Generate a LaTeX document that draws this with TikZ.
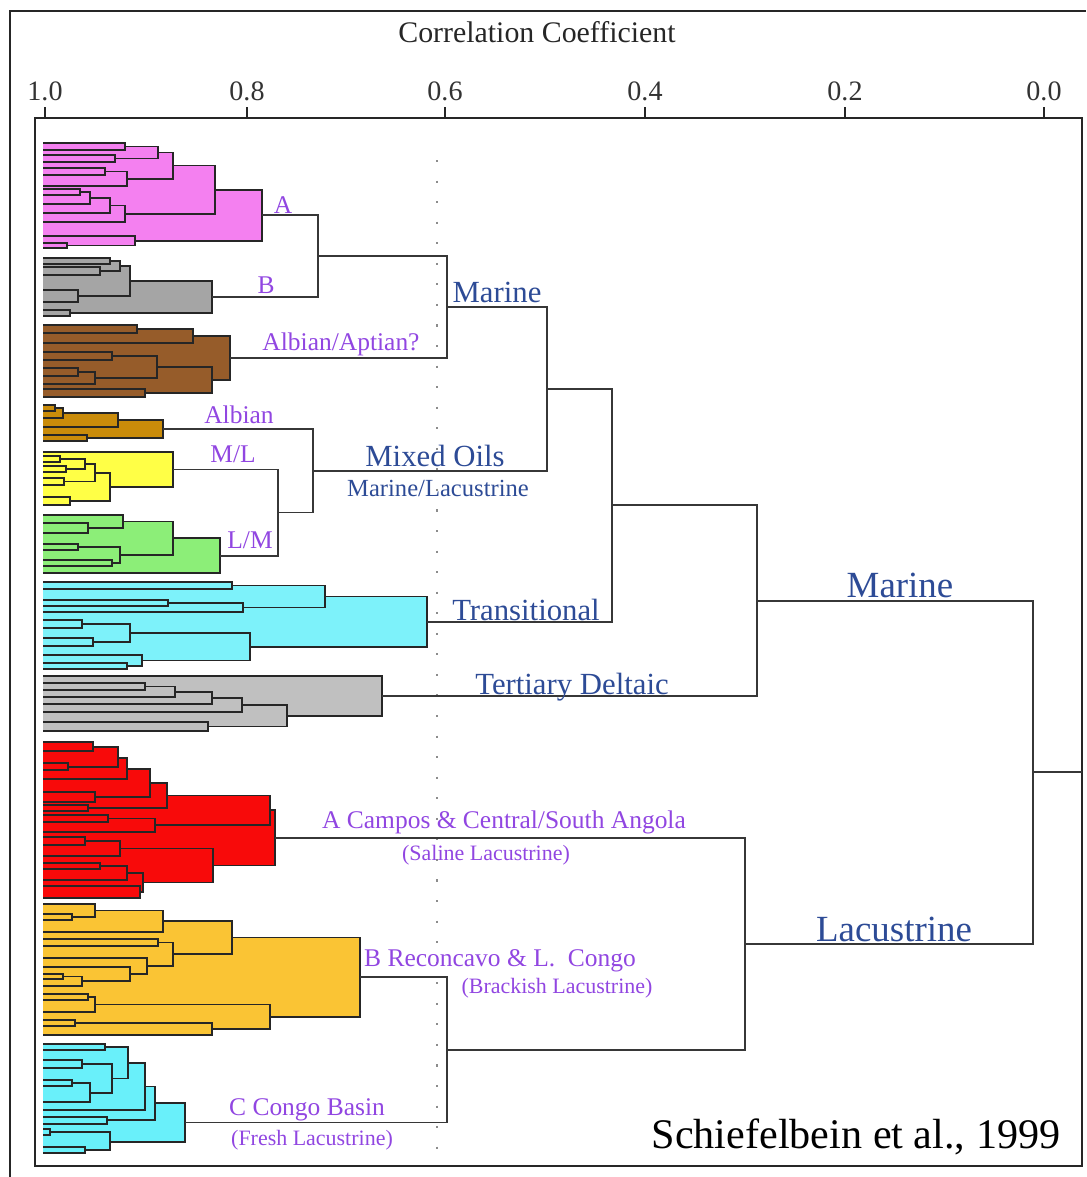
\documentclass[tikz,border=0pt]{standalone}
\usepackage{fontspec}
\setmainfont{Liberation Serif}
\usepackage{tikz}
\definecolor{pinkA}{RGB}{244,128,240}
\definecolor{grayB}{RGB}{165,165,165}
\definecolor{brownAA}{RGB}{150,92,42}
\definecolor{goldAlb}{RGB}{202,140,10}
\definecolor{yellowML}{RGB}{255,255,70}
\definecolor{greenLM}{RGB}{140,238,120}
\definecolor{cyanTr}{RGB}{125,242,250}
\definecolor{grayTd}{RGB}{192,192,192}
\definecolor{redSal}{RGB}{248,10,10}
\definecolor{orangeBr}{RGB}{250,196,52}
\definecolor{cyanFr}{RGB}{105,240,250}
\definecolor{grpcol}{RGB}{145,70,225}
\definecolor{typcol}{RGB}{45,75,150}
\definecolor{linkcol}{RGB}{55,55,55}
\tikzset{
	lbl/.style = {inner sep=0pt, anchor=base},
	grp_lbl/.style = {lbl, text=grpcol, font=\fontsize{14.5}{16}\selectfont},
	sub_lbl/.style = {lbl, text=grpcol, font=\fontsize{12.5}{14}\selectfont},
	typ_lbl/.style = {lbl, text=typcol, font=\fontsize{17.5}{20}\selectfont},
	typ_sub/.style = {lbl, text=typcol, font=\fontsize{14}{16}\selectfont},
	big_lbl/.style = {lbl, text=typcol, font=\fontsize{21}{24}\selectfont},
	tick_lbl/.style = {lbl, text=black!80, font=\fontsize{16}{18}\selectfont},
	title_lbl/.style = {lbl, text=black!85, font=\fontsize{17}{20}\selectfont},
	cite_lbl/.style = {lbl, text=black, font=\fontsize{24}{28}\selectfont},
	clu_line/.style = {draw=black!85, line width=1pt},
	link_line/.style = {draw=linkcol, line width=1.1pt},
	box_line/.style = {draw=black!85, line width=1.1pt},
	guide_dots/.style = {draw=black!45, line width=1.2pt, dash pattern=on 1.2pt off 10.5pt}
}

\begin{document}
\begin{tikzpicture}[x=0.02cm, y=-0.02cm]
\useasboundingbox (0,0) rectangle (1086,1177);
\draw[box_line] (10,1177) -- (10,11) -- (1086,11);
\draw[box_line] (35,118) rectangle (1082,1166);
\node[title_lbl] (title) at (537,42) {Correlation Coefficient};
\foreach \v/\lab [count=\i] in {45/1.0, 247/0.8, 445/0.6, 645/0.4, 845/0.2, 1044/0.0} {
	\draw[box_line] (\v,107) -- (\v,118);
	\node[tick_lbl] (tick\i) at (\v,100) {\lab};
}
\draw[guide_dots] (437,160) -- (437,1152);

\foreach \mx/\ya/\yb in {262/189.7/240.75, 215/165.6/213.75, 173/152.5/178.75, 158/146.5/158.5,
	135/236/245.5, 127/171.5/186, 125/205.5/222, 125/143/150, 115/155/162, 110/198/213,
	105/168/175, 90/192/204, 80/189/195, 67/243/248}
	\filldraw[clu_line, fill=pinkA] (43,\ya) -| (\mx,\yb) -- (43,\yb);
\foreach \mx/\ya/\yb in {212/281/313, 130/266/296, 120/261/271, 110/258/264, 100/267/275,
	78/290/302, 70/310/316}
	\filldraw[clu_line, fill=grayB] (43,\ya) -| (\mx,\yb) -- (43,\yb);
\foreach \mx/\ya/\yb in {230/336/380, 212/367/393, 193/329/343, 157/356/378, 145/389/397,
	137/325/333, 112/352/360, 95/372/384, 78/368/376}
	\filldraw[clu_line, fill=brownAA] (43,\ya) -| (\mx,\yb) -- (43,\yb);
\foreach \mx/\ya/\yb in {163/420/438, 118/413/427, 87/435/441, 63/408/418, 55/405/411}
	\filldraw[clu_line, fill=goldAlb] (43,\ya) -| (\mx,\yb) -- (43,\yb);
\foreach \mx/\ya/\yb in {173/452/487, 110/473/501, 95/464/481.5, 85/459/469, 70/497/505,
	66/466/472, 64/478/485, 60/456/462}
	\filldraw[clu_line, fill=yellowML] (43,\ya) -| (\mx,\yb) -- (43,\yb);
\foreach \mx/\ya/\yb in {220/538.25/573, 173/521.5/555, 123/515/528, 120/547/563,
	112/560/566, 88/523/533, 78/544/550}
	\filldraw[clu_line, fill=greenLM] (43,\ya) -| (\mx,\yb) -- (43,\yb);
\foreach \mx/\ya/\yb in {427/596.5/647, 325/585.5/607.5, 250/633/660.5, 243/603/612,
	232/582/589, 168/600/606, 142/655/666, 130/624/642, 127/663/669, 93/638/646, 82/620/628}
	\filldraw[clu_line, fill=cyanTr] (43,\ya) -| (\mx,\yb) -- (43,\yb);
\foreach \mx/\ya/\yb in {382/676/716, 287/705/726.5, 242/698/712, 212/692/704,
	208/722/731, 175/686.5/697, 145/683/690}
	\filldraw[clu_line, fill=grayTd] (43,\ya) -| (\mx,\yb) -- (43,\yb);
\foreach \mx/\ya/\yb in {275/810.25/865.5, 270/795.5/825, 213/848.5/882.5, 167/783/808,
	155/818.5/832, 150/769/797, 143/873/892, 140/886/898, 127/758/779, 127/866/880,
	120/841/856, 118/747/767, 108/815/822, 100/863/869, 95/792/802, 93/742/751,
	88/805/811, 85/837/845, 68/763/770}
	\filldraw[clu_line, fill=redSal] (43,\ya) -| (\mx,\yb) -- (43,\yb);
\foreach \mx/\ya/\yb in {360/937.5/1017, 270/1004.5/1029, 232/921/954, 212/1023/1035,
	173/942.5/966, 163/910.5/932, 158/939/946, 147/958/974, 130/967/981, 95/997/1012,
	95/904/917, 88/994/1000, 82/976.5/986, 75/1020/1026, 72/914/920, 63/974/979}
	\filldraw[clu_line, fill=orangeBr] (43,\ya) -| (\mx,\yb) -- (43,\yb);
\foreach \mx/\ya/\yb in {185/1103/1142, 155/1086.5/1120, 145/1063/1110, 128/1047/1078.5,
	112/1064/1093, 110/1132/1150, 107/1117/1124, 105/1044/1050, 90/1083/1102,
	85/1147/1153, 82/1060/1068, 72/1080/1086, 50/1129/1135}
	\filldraw[clu_line, fill=cyanFr] (43,\ya) -| (\mx,\yb) -- (43,\yb);

\coordinate (kA) at (262,215.2);
\coordinate (kB) at (212,297);
\coordinate (jAB) at (318,256.1);
\coordinate (kAA) at (230,358);
\coordinate (jMar) at (447,307);
\coordinate (kAlb) at (163,429);
\coordinate (kML) at (173,469.5);
\coordinate (kLM) at (220,555.6);
\coordinate (jML) at (278,512.5);
\coordinate (jMix) at (313,470.8);
\coordinate (jMM) at (547,389);
\coordinate (kTr) at (427,621.8);
\coordinate (jMMT) at (612,505.4);
\coordinate (kTd) at (382,696);
\coordinate (jMarine) at (757,600.7);
\coordinate (kRed) at (275,837.9);
\coordinate (kOr) at (360,977);
\coordinate (kCy) at (185,1122.5);
\coordinate (jBC) at (447,1049.8);
\coordinate (jLac) at (745,943.8);
\coordinate (jRoot) at (1033,772.3);
\coordinate (rootEnd) at (1082,772.3);

\draw[link_line] (kA) -| (jAB) |- (kB);
\draw[link_line] (jAB) -| (jMar) |- (kAA);
\draw[link_line] (kML) -| (jML) |- (kLM);
\draw[link_line] (kAlb) -| (jMix) |- (jML);
\draw[link_line] (jMar) -| (jMM) |- (jMix);
\draw[link_line] (jMM) -| (jMMT) |- (kTr);
\draw[link_line] (jMMT) -| (jMarine) |- (kTd);
\draw[link_line] (kOr) -| (jBC) |- (kCy);
\draw[link_line] (kRed) -| (jLac) |- (jBC);
\draw[link_line] (jMarine) -| (jRoot) |- (jLac);
\draw[link_line] (jRoot) -- (rootEnd);

\node[grp_lbl] (labA) at (283,213) {A};
\node[grp_lbl] (labB) at (266,293) {B};
\node[grp_lbl] (labAA) at (341,350) {Albian/Aptian?};
\node[grp_lbl] (labAlb) at (239,423) {Albian};
\node[grp_lbl] (labML) at (233,462) {M/L};
\node[grp_lbl] (labLM) at (250,548) {L/M};
\node[typ_lbl] (labMar) at (497,302) {Marine};
\node[typ_lbl] (labMix) at (435,466) {Mixed Oils};
\node[typ_sub] (labMixS) at (438,496) {Marine/Lacustrine};
\node[typ_lbl] (labTr) at (526,620) {Transitional};
\node[typ_lbl] (labTd) at (572,694) {Tertiary Deltaic};
\node[big_lbl] (labMarine) at (900,597) {Marine};
\node[big_lbl] (labLac) at (894,941) {Lacustrine};
\node[grp_lbl] (labCam) at (504,828) {A Campos \& Central/South Angola};
\node[sub_lbl] (labCamS) at (486,860) {(Saline Lacustrine)};
\node[grp_lbl] (labRec) at (500,966) {B Reconcavo \& L.\ \ Congo};
\node[sub_lbl] (labRecS) at (557,993) {(Brackish Lacustrine)};
\node[grp_lbl] (labCon) at (307,1115) {C Congo Basin};
\node[sub_lbl] (labConS) at (312,1145) {(Fresh Lacustrine)};
\node[cite_lbl] (cite) at (856,1148) {Schiefelbein et al., 1999};
\end{tikzpicture}
\end{document}
